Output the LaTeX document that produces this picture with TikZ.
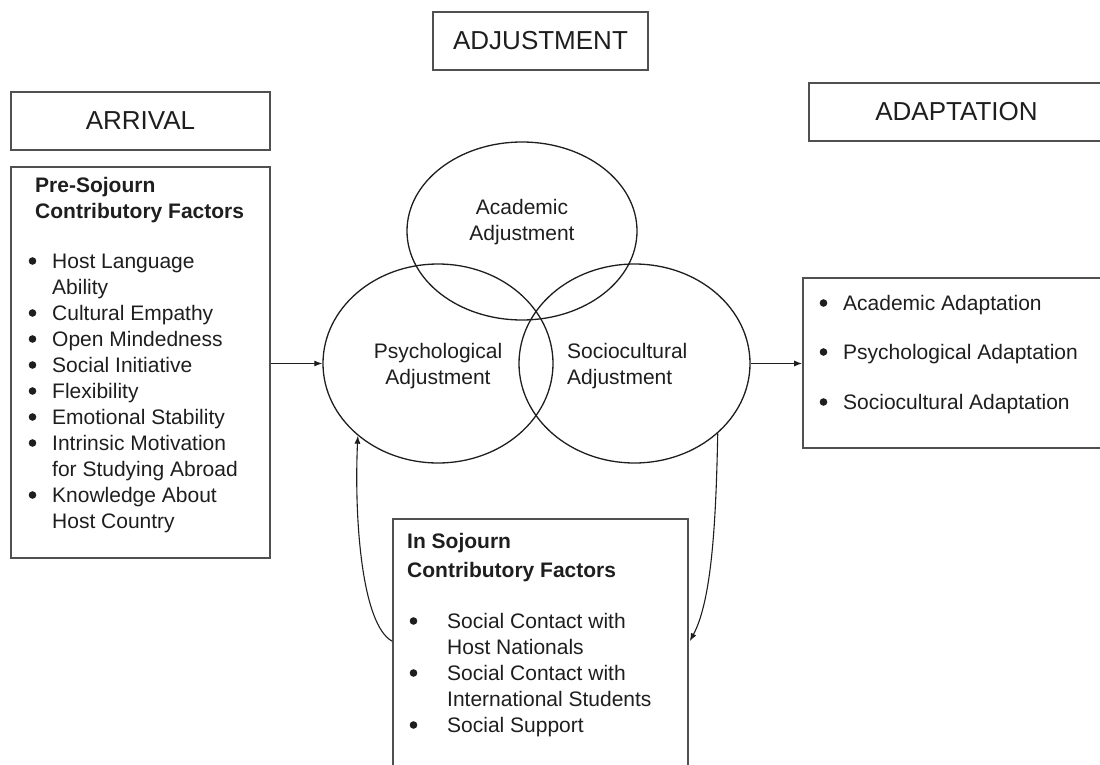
\documentclass[tikz,border=0pt]{standalone}
\usepackage{fontspec}
\setmainfont{Liberation Sans}
\usetikzlibrary{shapes.geometric,arrows.meta,calc}
\definecolor{boxline}{HTML}{505050}
\definecolor{ink}{HTML}{1E1E1E}
\begin{document}
\begin{tikzpicture}[x=1pt,y=-1pt,
  box/.style={draw=boxline,line width=1.6pt,rectangle,inner sep=0pt,anchor=center},
  head/.style={box,font=\fontsize{26}{30}\selectfont,text=ink},
  circ/.style={draw=ink,line width=1.3pt,ellipse,inner sep=0pt},
  txt/.style={inner sep=0pt,text=ink,font=\fontsize{21}{26}\selectfont},
  dot/.style={fill=ink},
  arr/.style={draw=ink,line width=1.1pt,-{Latex[length=8pt,width=6pt]}}
]
\useasboundingbox (0,0) rectangle (1100,765);
\clip (0,0) rectangle (1100,765);
% header boxes
\node[head,minimum width=215pt,minimum height=58pt] (adj) at (540.5,41) {ADJUSTMENT};
\node[head,minimum width=259pt,minimum height=58pt] (arr) at (140.5,121) {ARRIVAL};
\node[head,minimum width=295pt,minimum height=58pt] (adp) at (956.5,112) {ADAPTATION};
% content boxes
\node[box,minimum width=259pt,minimum height=391pt] (pre) at (140.5,362.5) {};
\node[box,minimum width=307pt,minimum height=170pt] (adl) at (956.5,363) {};
\node[box,minimum width=295pt,minimum height=300pt] (ins) at (540.5,669) {};
% ellipses
\node[circ,minimum width=230pt,minimum height=178pt] (ac) at (522,231) {};
\node[circ,minimum width=230pt,minimum height=199pt] (ps) at (438,363.5) {};
\node[circ,minimum width=231pt,minimum height=199pt] (so) at (634.5,363.5) {};
% ellipse labels
\node[txt,anchor=base] (acT) at (522,214) {\begin{tabular}[t]{@{}c@{}}Academic\\Adjustment\end{tabular}};
\node[txt,anchor=base] (psT) at (438,358) {\begin{tabular}[t]{@{}c@{}}Psychological\\Adjustment\end{tabular}};
\node[txt,anchor=base west] (soT) at (567,358) {\begin{tabular}[t]{@{}l@{}}Sociocultural\\Adjustment\end{tabular}};
% pre-sojourn list
\node[txt,anchor=base west] (preT) at (28,192) {\begin{tabular}[t]{@{}l@{}}
\hspace*{7pt}\textbf{Pre-Sojourn}\\
\hspace*{7pt}\textbf{Contributory Factors}\\[24pt]
\hspace*{24pt}Host Language\\
\hspace*{24pt}Ability\\
\hspace*{24pt}Cultural Empathy\\
\hspace*{24pt}Open Mindedness\\
\hspace*{24pt}Social Initiative\\
\hspace*{24pt}Flexibility\\
\hspace*{24pt}Emotional Stability\\
\hspace*{24pt}Intrinsic Motivation\\
\hspace*{24pt}for Studying Abroad\\
\hspace*{24pt}Knowledge About\\
\hspace*{24pt}Host Country
\end{tabular}};
\foreach \dy in {76,128,154,180,206,232,258,310}
  \fill[dot] ($(preT.base west)+(4.5,\dy-7)$) circle (3.8pt);
% adaptation list
\node[txt,anchor=base west] (adlT) at (819,310) {\begin{tabular}[t]{@{}l@{}}
\hspace*{24pt}Academic Adaptation\\[23pt]
\hspace*{24pt}Psychological Adaptation\\[24pt]
\hspace*{24pt}Sociocultural Adaptation
\end{tabular}};
\foreach \dy in {0,49,99}
  \fill[dot] ($(adlT.base west)+(4.5,\dy-7)$) circle (3.8pt);
% in sojourn list
\node[txt,anchor=base west] (insT) at (407,548) {\begin{tabular}[t]{@{}l@{}}
\textbf{In Sojourn}\\[3pt]
\textbf{Contributory Factors}\\[25pt]
\hspace*{40pt}Social Contact with\\
\hspace*{40pt}Host Nationals\\
\hspace*{40pt}Social Contact with\\
\hspace*{40pt}International Students\\
\hspace*{40pt}Social Support
\end{tabular}};
\foreach \dy in {80,132,184}
  \fill[dot] ($(insT.base west)+(6.5,\dy-7)$) circle (3.8pt);
% connectors
\draw[arr] (ps.west -| pre.east) -- (ps.west);
\draw[arr] (so.east) -- (so.east -| adl.west);
\coordinate (insL) at ($(ins.north west)+(0,123)$);
\coordinate (insR) at ($(ins.north east)+(1,123)$);
\draw[arr] (insL) .. controls (362,625) and (354,520) .. (ps.222);
\draw[arr] (so.320) .. controls (716,520) and (712,600) .. (insR);
\end{tikzpicture}
\end{document}
